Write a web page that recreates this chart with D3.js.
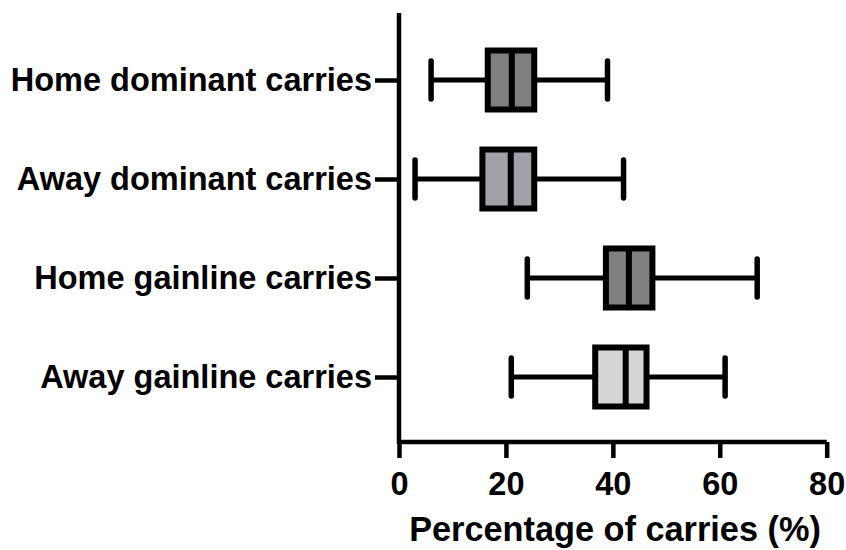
<!DOCTYPE html>
<html><head><meta charset="utf-8">
<script src="https://cdn.jsdelivr.net/npm/d3@7"></script>
<style>body{margin:0;background:#fff}svg{display:block}</style>
</head><body>
<svg id="c" width="846" height="550"></svg>
<script>
const categories = ["Home dominant carries","Away dominant carries","Home gainline carries","Away gainline carries"];
const minVals    = [6, 3, 24, 21];
const q1Vals     = [16.6, 15.6, 38.7, 36.7];
const medianVals = [21.1, 20.9, 43.0, 42.4];
const q3Vals     = [25.3, 25.3, 47.4, 46.3];
const maxVals    = [39, 42, 67, 61];
const fillColors = ["#808080", "#a0a0a8", "#808080", "#d6d6d6"];
const xTicks = [0, 20, 40, 60, 80];
const xTitle = "Percentage of carries (%)";

const svg = d3.select("#c");
const x = d3.scaleLinear().domain([0, 80]).range([399, 826.7]);
const y = d3.scalePoint().domain(categories).range([80, 377]);
const font = "Liberation Sans, Arial, Helvetica, sans-serif";
const fs = 32.5;

const data = categories.map((c, i) => ({c, min:minVals[i], q1:q1Vals[i], med:medianVals[i], q3:q3Vals[i], max:maxVals[i], fill:fillColors[i]}));

// axes
const xAxis = svg.append("g").attr("transform", "translate(0,442)")
  .call(d3.axisBottom(x).tickValues(xTicks).tickSize(16).tickSizeOuter(0).tickPadding(14));
xAxis.select(".domain").attr("stroke", "#000").attr("stroke-width", 4.5).attr("d", `M${x(0)},0H${x(80)}`);
xAxis.selectAll(".tick line").attr("stroke", "#000").attr("stroke-width", 4.5);
xAxis.selectAll(".tick text").attr("font-family", font).attr("font-weight", "bold").attr("font-size", fs).attr("fill", "#000");

const yAxis = svg.append("g").attr("transform", `translate(${x(0)},0)`)
  .call(d3.axisLeft(y).tickSize(24).tickSizeOuter(0).tickPadding(3));
yAxis.select(".domain").attr("stroke", "#000").attr("stroke-width", 4.5).attr("d", "M0,13V444");
yAxis.selectAll(".tick line").attr("stroke", "#000").attr("stroke-width", 4.5);
yAxis.selectAll(".tick text").attr("font-family", font).attr("font-weight", "bold").attr("font-size", fs).attr("fill", "#000").attr("dy", "0.33em");

svg.append("text").attr("x", 615).attr("y", 541).attr("text-anchor", "middle")
  .attr("font-family", font).attr("font-weight", "bold").attr("font-size", 34.3).attr("fill", "#000").text(xTitle);

// boxes
const g = svg.append("g").selectAll("g").data(data).join("g").attr("transform", d => `translate(0,${y(d.c)})`);
const boxH = 59, capH = 38;
g.append("line").attr("x1", d => x(d.min)).attr("x2", d => x(d.q1)).attr("stroke", "#000").attr("stroke-width", 5);
g.append("line").attr("x1", d => x(d.q3)).attr("x2", d => x(d.max)).attr("stroke", "#000").attr("stroke-width", 5);
g.append("line").attr("x1", d => x(d.min)).attr("x2", d => x(d.min)).attr("y1", -capH/2).attr("y2", capH/2)
  .attr("stroke", "#000").attr("stroke-width", 5.5).attr("stroke-linecap", "round");
g.append("line").attr("x1", d => x(d.max)).attr("x2", d => x(d.max)).attr("y1", -capH/2).attr("y2", capH/2)
  .attr("stroke", "#000").attr("stroke-width", 5.5).attr("stroke-linecap", "round");
g.append("rect").attr("x", d => x(d.q1)).attr("width", d => x(d.q3) - x(d.q1)).attr("y", -boxH/2).attr("height", boxH)
  .attr("fill", d => d.fill).attr("stroke", "#000").attr("stroke-width", 6);
g.append("line").attr("x1", d => x(d.med)).attr("x2", d => x(d.med)).attr("y1", -boxH/2).attr("y2", boxH/2)
  .attr("stroke", "#000").attr("stroke-width", 6);
</script>
</body></html>
